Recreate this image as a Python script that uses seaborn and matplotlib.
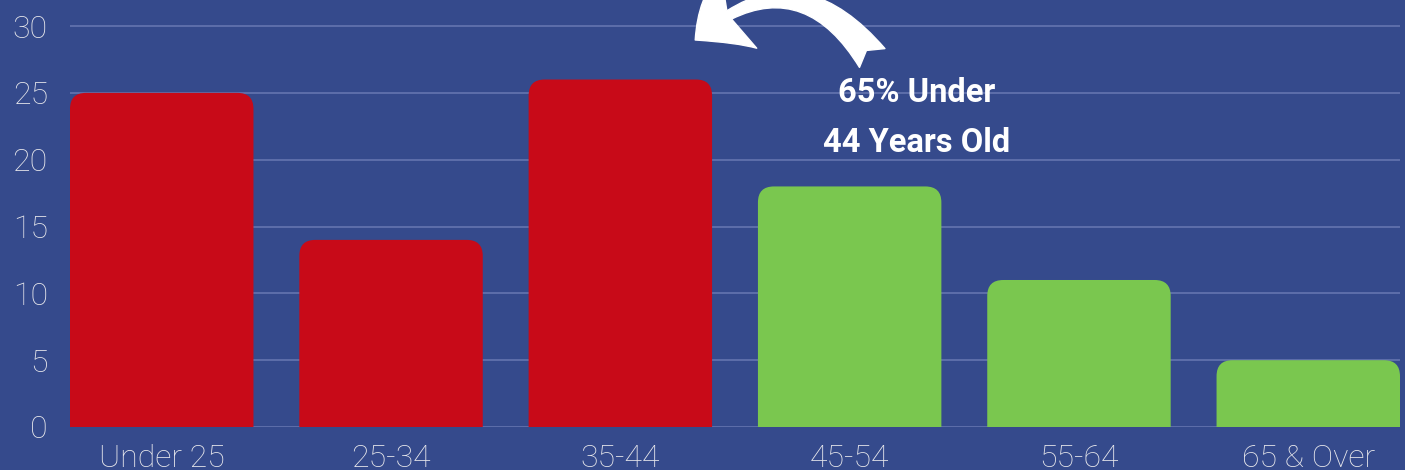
import matplotlib
matplotlib.use("Agg")
import matplotlib.pyplot as plt
import seaborn as sns
import pandas as pd
from matplotlib.patches import FancyBboxPatch

categories = ["Under 25", "25-34", "35-44", "45-54", "55-64", "65 & Over"]
values = [25, 14, 26, 18, 11, 5]
bar_colors = ["#C80A18", "#C80A18", "#C80A18", "#7AC74F", "#7AC74F", "#7AC74F"]
y_ticks = [0, 5, 10, 15, 20, 25, 30]
annotation = "65% Under\n44 Years Old"

BG = "#354A8C"
sns.set_theme(style="white")
plt.rcParams["font.family"] = ["Roboto", "DejaVu Sans"]

df = pd.DataFrame({"age": categories, "pct": values})

fig = plt.figure(figsize=(14.05, 4.70), dpi=100, facecolor=BG)
ax = fig.add_axes([70 / 1405, 43 / 470, 1330 / 1405, 427 / 470])
ax.set_facecolor(BG)

sns.barplot(data=df, x="age", y="pct", hue="age", palette=bar_colors,
            legend=False, width=0.8, ax=ax, saturation=1, zorder=2)

ax.set_xlim(-0.4, 5.4)
ax.set_ylim(0, 31.95)

px_per_x = 1330 / 5.8
px_per_y = 427 / 31.95
r_px = 16
rx = r_px / px_per_x
aspect = (1 / px_per_y) / (1 / px_per_x)
for p, c in zip(list(ax.patches), bar_colors):
    x0, w, h = p.get_x(), p.get_width(), p.get_height()
    p.set_visible(False)
    fb = FancyBboxPatch((x0, -3), w, h + 3,
                        boxstyle=f"round,pad=0,rounding_size={rx}",
                        mutation_aspect=aspect, facecolor=c, edgecolor="none",
                        zorder=3)
    ax.add_patch(fb)

ax.set_yticks(y_ticks)
ax.yaxis.grid(True, color="#7080B8", linewidth=1.2, alpha=0.8, zorder=0)
ax.xaxis.grid(False)
ax.set_axisbelow(True)
for s in ax.spines.values():
    s.set_visible(False)
ax.set_xlabel("")
ax.set_ylabel("")
ax.tick_params(axis="y", length=0, pad=16, labelsize=23, labelcolor="#E8E8EC")
ax.tick_params(axis="x", length=0, pad=12, labelsize=23, labelcolor="#E8E8EC")
for lab in ax.get_xticklabels() + ax.get_yticklabels():
    lab.set_fontweight("light")

ax.text(3.29, 23.1, annotation, ha="center", va="center", color="white",
        fontsize=23.5, fontweight="bold", linespacing=1.72,
        family=["Roboto", "DejaVu Sans"], zorder=5)

def xd(px):
    return (px - 161.5) / px_per_x

def yd(py):
    return (427 - py) / px_per_y

ax.annotate("", xy=(xd(695), yd(40)), xytext=(xd(872), yd(58)),
            arrowprops=dict(arrowstyle="fancy,head_length=1.0,head_width=1.6,tail_width=0.6",
                            connectionstyle="arc3,rad=0.55", color="white",
                            mutation_scale=38, shrinkA=0, shrinkB=0),
            annotation_clip=False, zorder=6)

fig.savefig("out.png", dpi=100, facecolor=BG)
